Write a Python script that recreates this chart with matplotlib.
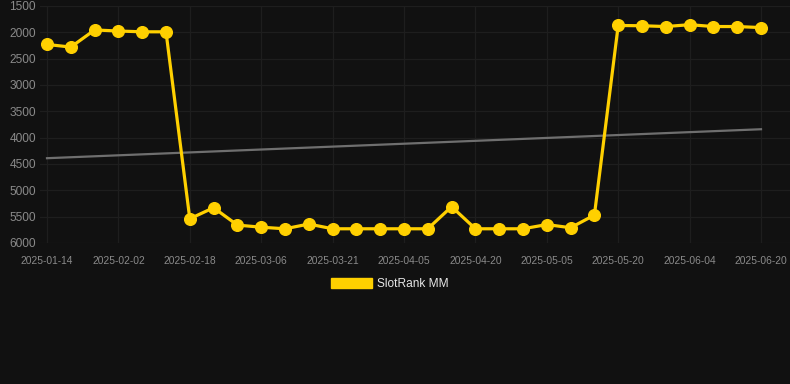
import matplotlib
matplotlib.use("Agg")
import matplotlib.pyplot as plt
from matplotlib.patches import Patch

plt.rcParams['font.family'] = ['Liberation Sans', 'DejaVu Sans']

dates = ["2025-01-14", "2025-01-20", "2025-01-26", "2025-02-02", "2025-02-07", "2025-02-12",
         "2025-02-18", "2025-02-23", "2025-03-01", "2025-03-06", "2025-03-11", "2025-03-16",
         "2025-03-21", "2025-03-26", "2025-03-31", "2025-04-05", "2025-04-10", "2025-04-15",
         "2025-04-20", "2025-04-25", "2025-04-30", "2025-05-05", "2025-05-10", "2025-05-15",
         "2025-05-20", "2025-05-25", "2025-05-30", "2025-06-04", "2025-06-09", "2025-06-14",
         "2025-06-20"]
rank = [2230, 2280, 1955, 1975, 1990, 1990,
        5540, 5330, 5660, 5700, 5730, 5640,
        5730, 5730, 5730, 5730, 5730, 5310,
        5730, 5730, 5730, 5650, 5710, 5470,
        1870, 1875, 1890, 1855, 1890, 1890,
        1910]
trend = [4390, 3840]
yticks = [1500, 2000, 2500, 3000, 3500, 4000, 4500, 5000, 5500, 6000]
series_name = "SlotRank MM"

bg = "#111111"
yellow = "#FFD000"

fig = plt.figure(figsize=(7.9, 3.84), dpi=100, facecolor=bg)
W, H = 790, 384
ax = fig.add_axes([40 / W, 1 - 243 / H, 750 / W, 237 / H], facecolor=bg)

x = list(range(len(dates)))
ax.plot([x[0], x[-1]], trend, color="#6f6f6f", lw=1.6, zorder=2)
ax.plot(x, rank, color=yellow, lw=2.3, marker="o", markersize=8.4,
        markerfacecolor=yellow, markeredgecolor=yellow, zorder=3)

ax.set_ylim(6000, 1500)
ax.set_yticks(yticks)
ax.set_yticklabels([str(v) for v in yticks])
ax.set_xlim(-7 / 23.8, 30 + 29 / 23.8)
tick_idx = x[::3]
ax.set_xticks(tick_idx)
ax.set_xticklabels([dates[i] for i in tick_idx])

ax.grid(True, color="#1e1e1e", lw=0.9, zorder=0)
for s in ax.spines.values():
    s.set_visible(False)
ax.tick_params(axis="y", length=0, pad=3, labelsize=8.6, labelcolor="#8a8a8a")
ax.tick_params(axis="x", length=0, pad=9, labelsize=7.4, labelcolor="#8a8a8a")

leg = fig.legend(handles=[Patch(facecolor=yellow, edgecolor=yellow, label=series_name)],
                 loc="center", bbox_to_anchor=(390 / W, 1 - 284 / H), frameon=False,
                 fontsize=8.6, handlelength=3.4, handleheight=1.0, handletextpad=0.5)
for t in leg.get_texts():
    t.set_color("#e6e6e6")

fig.savefig("out.png", dpi=100, facecolor=bg)
